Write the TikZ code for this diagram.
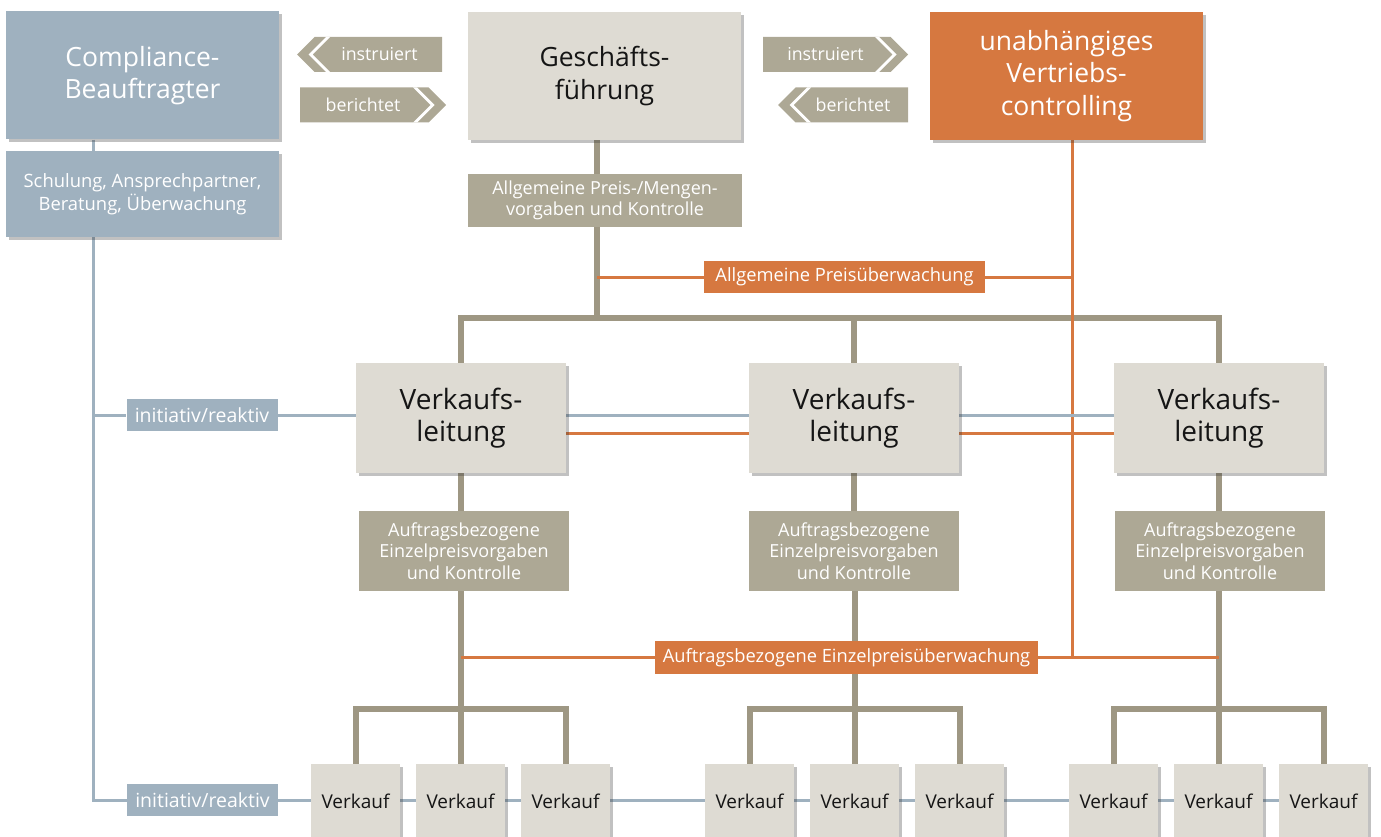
\documentclass[tikz,border=0pt]{standalone}
\usepackage{fontspec}
\setmainfont{Open Sans}
\usetikzlibrary{positioning,shadows,backgrounds}

\definecolor{cblue}{HTML}{9FB1BF}
\definecolor{cbeige}{HTML}{DEDBD3}
\definecolor{ctaupe}{HTML}{ADA895}
\definecolor{cline}{HTML}{9E9783}
\definecolor{corange}{HTML}{D67840}
\definecolor{ctext}{HTML}{151515}

\newcommand{\tagleft}[5]{%
  \fill[ctaupe] (#3,#4-17.5) -- (#2+17.5,#4-17.5) -- (#2,#4) -- (#2+17.5,#4+17.5) -- (#3,#4+17.5) -- cycle;
  \fill[white] (#2+29,#4-17.5) -- (#2+33,#4-17.5) -- (#2+15.5,#4) -- (#2+33,#4+17.5) -- (#2+29,#4+17.5) -- (#2+11.5,#4) -- cycle;
  \node[tag text] (#1) at ({(#2+20+#3)/2},#4) {#5};}
\newcommand{\tagright}[5]{%
  \fill[ctaupe] (#2,#4-17.5) -- (#3-17.5,#4-17.5) -- (#3,#4) -- (#3-17.5,#4+17.5) -- (#2,#4+17.5) -- cycle;
  \fill[white] (#3-29,#4-17.5) -- (#3-33,#4-17.5) -- (#3-15.5,#4) -- (#3-33,#4+17.5) -- (#3-29,#4+17.5) -- (#3-11.5,#4) -- cycle;
  \node[tag text] (#1) at ({(#2+#3-20)/2},#4) {#5};}

\begin{document}
\begin{tikzpicture}[x=1pt,y=-1pt,node distance=105pt,
    box/.style={inner sep=0pt,align=center,text=ctext,
      drop shadow={shadow xshift=3pt,shadow yshift=-3pt,fill=black!80,opacity=.3}},
    head node/.style={box,minimum width=273pt,minimum height=128pt,font=\fontsize{26.5}{32.5}\selectfont},
    lead node/.style={box,fill=cbeige,minimum width=210pt,minimum height=110pt,font=\fontsize{28}{32}\selectfont},
    sale node/.style={box,fill=cbeige,minimum width=89pt,minimum height=74pt,font=\fontsize{19}{22}\selectfont},
    rule node/.style={fill=ctaupe,text=white,inner sep=0pt,align=center,font=\fontsize{18}{21.5}\selectfont},
    watch node/.style={fill=corange,text=white,inner sep=0pt,minimum height=32pt,font=\fontsize{18.3}{21}\selectfont},
    mode node/.style={fill=cblue,text=white,inner sep=0pt,minimum width=151pt,minimum height=32pt,font=\fontsize{19.5}{21}\selectfont},
    tag text/.style={text=white,inner sep=0pt,font=\fontsize{17.8}{20}\selectfont},
    grayline/.style={cline,line width=6pt},
    blueline/.style={cblue,line width=3pt},
    orangeline/.style={corange,line width=3pt}]

    \clip (0,0) rectangle (1381,837);

    % top row
    \node[head node,fill=cblue,text=white] (comp) at (142.5,75.5) {Compliance-\\Beauftragter};
    \node[box,fill=cblue,text=white,minimum width=273pt,minimum height=86pt,
      font=\fontsize{18.4}{23.5}\selectfont] (train) at (142.5,194) {Schulung, Ansprechpartner,\\Beratung, Überwachung};
    \node[head node,fill=cbeige] (gf) at (604.5,76) {Geschäfts-\\führung};
    \node[head node,fill=corange,text=white] (ctrl) at (1066.5,76) {unabhängiges\\Vertriebs-\\controlling};

    \tagleft{ins1}{297}{442}{54.5}{instruiert}
    \tagright{ber1}{300}{446}{105}{berichtet}
    \tagright{ins2}{763}{908}{54.5}{instruiert}
    \tagleft{ber2}{778}{908}{105}{berichtet}

    \node[rule node,minimum width=274pt,minimum height=53pt] (gfrule) at (605,200.5) {Allgemeine Preis-/Mengen-\\vorgaben und Kontrolle};
    \node[watch node,minimum width=281pt] (watch1) at (844.5,277) {Allgemeine Preisüberwachung};

    % Verkaufsleitung
    \node[lead node] (vl1) at (461,418) {Verkaufs-\\leitung};
    \node[lead node] (vl2) at (854,418) {Verkaufs-\\leitung};
    \node[lead node] (vl3) at (1219,418) {Verkaufs-\\leitung};
    \node[mode node] (mode1) at (202,415) {initiativ/reaktiv};

    \node[rule node,minimum width=210pt,minimum height=80pt] (ar1) at (464,551) {Auftragsbezogene\\Einzelpreisvorgaben\\und Kontrolle};
    \node[rule node,minimum width=210pt,minimum height=80pt] (ar2) at (854,551) {Auftragsbezogene\\Einzelpreisvorgaben\\und Kontrolle};
    \node[rule node,minimum width=210pt,minimum height=80pt] (ar3) at (1220,551) {Auftragsbezogene\\Einzelpreisvorgaben\\und Kontrolle};
    \node[watch node,minimum width=383pt,minimum height=33pt] (watch2) at (846.5,657.5) {Auftragsbezogene Einzelpreisüberwachung};

    % Verkauf
    \node[sale node] (s11) at (355.5,801) {Verkauf};
    \node[sale node] (s12) [right of=s11] {Verkauf};
    \node[sale node] (s13) [right of=s12] {Verkauf};
    \node[sale node] (s21) at (749.5,801) {Verkauf};
    \node[sale node] (s22) [right of=s21] {Verkauf};
    \node[sale node] (s23) [right of=s22] {Verkauf};
    \node[sale node] (s31) at (1113.5,801) {Verkauf};
    \node[sale node] (s32) [right of=s31] {Verkauf};
    \node[sale node] (s33) [right of=s32] {Verkauf};
    \node[mode node] (mode2) at (202.5,800) {initiativ/reaktiv};

    \coordinate (bus) at (597,318);
    \coordinate (sbus) at (0,709);
    \coordinate (obus) at (1072,658);
    \coordinate (trunk) at (93,800);

    \begin{pgfonlayer}{background}
    \draw[grayline] (bus |- gf.south) -- (bus);
    \draw[grayline,line join=miter] (vl1.north) |- (bus) -| (vl3.north);
    \draw[grayline] (vl2.north) -- (vl2.north |- bus);
    \foreach \g in {1,2,3} {
      \draw[grayline] (vl\g.south) -- (vl\g.south |- ar\g.north);
      \draw[grayline] (ar\g.south -| s\g2.north) -- (s\g2.north);
      \draw[grayline,line join=miter] (s\g1.north) -- (s\g1.north |- sbus) -- (s\g3.north |- sbus) -- (s\g3.north);
    }

    \draw[orangeline] (bus |- watch1.west) -- (watch1.west);
    \draw[orangeline] (watch1.east) -- (watch1.east -| obus);
    \draw[orangeline] (ctrl.south -| obus) -- (obus);
    \draw[orangeline] (s12.north |- watch2.west) -- (watch2.west);
    \draw[orangeline] (watch2.east) -- (watch2.east -| s32.north);
    \draw[orangeline] ([yshift=-15pt]vl1.east) -- ([yshift=-15pt]vl2.west);
    \draw[orangeline] ([yshift=-15pt]vl2.east) -- ([yshift=-15pt]vl3.west);

    \draw[blueline] (comp.south -| trunk) -- (train.north -| trunk);
    \draw[blueline,line join=miter] (train.south -| trunk) -- (trunk) -- (mode2.west);
    \draw[blueline] (trunk |- mode1.west) -- (mode1.west);
    \draw[blueline] (mode1.east) -- (mode1.east -| vl3.west);
    \draw[blueline] (mode2.east) -- (mode2.east -| s33.west);
    \end{pgfonlayer}
\end{tikzpicture}
\end{document}
